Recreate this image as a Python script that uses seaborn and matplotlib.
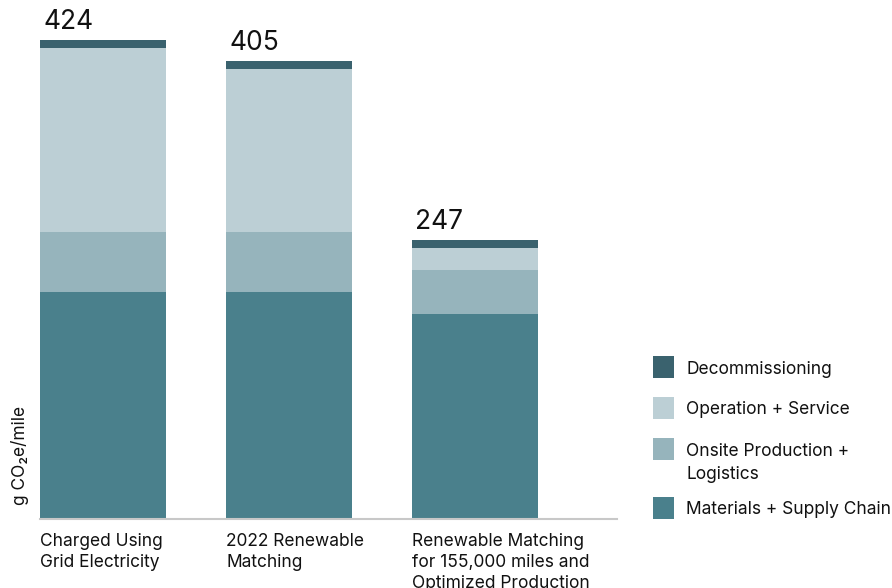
import numpy as np
import pandas as pd
import matplotlib
matplotlib.use("Agg")
import matplotlib.pyplot as plt
from matplotlib.patches import Rectangle
import seaborn as sns

# Lifecycle emissions per mile, split by phase (g CO2e/mile)
categories = [
    "Charged Using\nGrid Electricity",
    "2022 Renewable\nMatching",
    "Renewable Matching\nfor 155,000 miles and\nOptimized Production",
]
materials_supply_chain = [201, 201, 181]
onsite_production_logistics = [53, 53, 39]
operation_service = [163, 144, 20]
decommissioning = [7, 7, 7]

# stacking order, bottom to top
segment_names = [
    "Materials + Supply Chain",
    "Onsite Production +\nLogistics",
    "Operation + Service",
    "Decommissioning",
]
segment_colors = ["#4A808C", "#96B4BC", "#BCCFD5", "#3A626E"]

sns.set_theme(style="white")
plt.rcParams["font.family"] = ["Inter", "DejaVu Sans"]
plt.rcParams["text.color"] = "#111111"

df = pd.DataFrame({
    "category": categories,
    segment_names[0]: materials_supply_chain,
    segment_names[1]: onsite_production_logistics,
    segment_names[2]: operation_service,
    segment_names[3]: decommissioning,
})
cum = df[segment_names].cumsum(axis=1)
totals = cum[segment_names[-1]]

W, H = 892, 588
fig = plt.figure(figsize=(W / 100, H / 100), dpi=100)
fig.patch.set_facecolor("white")

bar_w = 0.677
ax = fig.add_axes([40 / W, (H - 519) / H, (617 - 40) / W, 509 / H])

# draw cumulative layers from the top segment down so each sits on the one below
for name, color in reversed(list(zip(segment_names, segment_colors))):
    sns.barplot(data=cum.assign(category=categories), x="category", y=name,
                order=categories, color=color, width=bar_w, saturation=1,
                linewidth=0, errorbar=None, ax=ax)

ax.set_xlim(-0.3387, 2.7634)
ax.set_ylim(0, 450.4)

for i, t in enumerate(totals):
    ax.annotate(f"{t:.0f}", xy=(i - bar_w / 2, t), xytext=(3, 11),
                textcoords="offset pixels", ha="left", va="baseline",
                fontsize=19, color="#111111")

pos = np.arange(len(categories)) - bar_w / 2
ax.set_xticks(pos, categories, ha="left", fontsize=12.5, linespacing=1.32)
ax.tick_params(axis="x", length=0, pad=10, colors="#111111")
ax.set_yticks([])
ax.set_xlabel("")
ax.set_ylabel("")
for s in ["top", "right", "left"]:
    ax.spines[s].set_visible(False)
ax.spines["bottom"].set_color("#c8c8c8")
ax.spines["bottom"].set_linewidth(1.5)

fig.text(20 / W, 1 - 505 / H, "g CO\u2082e/mile", rotation=90,
         ha="center", va="bottom", fontsize=12.5, color="#111111")

# legend, listed top to bottom
line_h = 23.3
y = 356
for name, color in reversed(list(zip(segment_names, segment_colors))):
    n_extra = name.count("\n")
    fig.add_artist(Rectangle((653 / W, 1 - (y + 22) / H), 21 / W, 22 / H,
                             transform=fig.transFigure, facecolor=color,
                             edgecolor="none"))
    # baseline alignment refers to the last line of a multi-line label
    fig.text(686 / W, 1 - (y + 17.5 + n_extra * line_h) / H, name,
             ha="left", va="baseline", fontsize=12.5, linespacing=1.44,
             color="#111111")
    y += 41 + 18 * n_extra

fig.savefig("out.png", dpi=100, facecolor="white")
